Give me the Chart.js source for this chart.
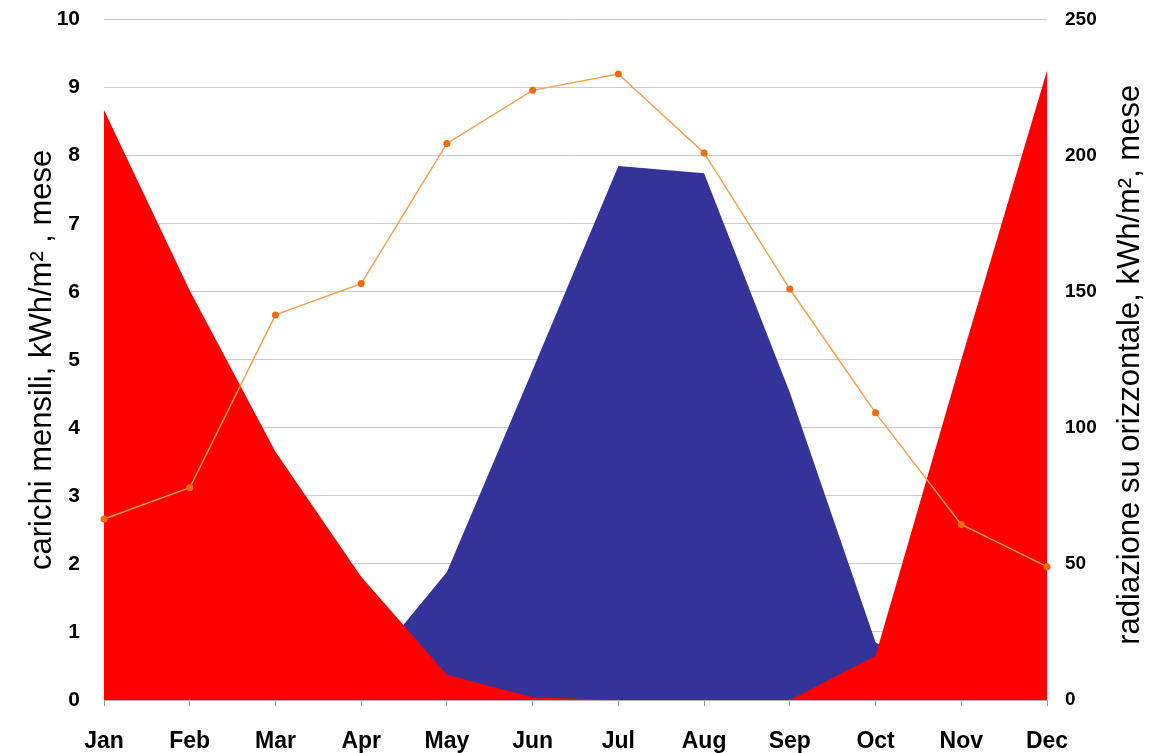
<!DOCTYPE html>
<html>
<head>
<meta charset="utf-8">
<script src="https://cdn.jsdelivr.net/npm/chart.js@4.4.1/dist/chart.umd.min.js"></script>
<style>
  html, body { margin: 0; padding: 0; background: #fff; }
  #wrap { width: 1150px; height: 753px; position: relative; }
</style>
</head>
<body>
<div id="wrap"><canvas id="c"></canvas></div>
<script>
/* monthly loads (left axis) + horizontal radiation (right axis) */
const months = ['Jan', 'Feb', 'Mar', 'Apr', 'May', 'Jun', 'Jul', 'Aug', 'Sep', 'Oct', 'Nov', 'Dec'];
const heating = [8.67, 6.02, 3.65, 1.81, 0.37, 0.04, 0, 0, 0, 0.65, 5.0, 9.25];
const cooling = [0, 0, 0, 0.35, 1.88, 4.85, 7.85, 7.74, 4.52, 0.85, 0, 0];
const radiation = [66.5, 78, 141.5, 153, 204.5, 224, 230, 201, 151, 105.5, 64.5, 49];

const leftTicks = [0, 1, 2, 3, 4, 5, 6, 7, 8, 9, 10];
const rightTicks = [0, 50, 100, 150, 200, 250];
const rightTitle = 'radiazione su orizzontale, kWh/m², mese';

const font = 'Liberation Sans, Arial, sans-serif';
const gridCol = '#cbcbcb';

// Chart.js turns a right-hand title top-to-bottom; the original reads bottom-to-top
const rightTitlePlugin = {
  id: 'rightTitle',
  afterDraw(chart) {
    const { ctx, chartArea } = chart;
    ctx.save();
    ctx.translate(1130, (chartArea.top + chartArea.bottom) / 2 + 5);
    ctx.rotate(-Math.PI / 2);
    ctx.font = '31px ' + font;
    ctx.fillStyle = '#000';
    ctx.textAlign = 'center';
    ctx.textBaseline = 'middle';
    ctx.fillText(rightTitle, 0, 0);
    ctx.restore();
  },
};

new Chart(document.getElementById('c'), {
  type: 'line',
  data: {
    labels: months,
    datasets: [
      { label: 'radiazione', data: radiation, yAxisID: 'y1', order: 0,
        borderColor: '#f5a04e', borderWidth: 1.5, fill: false, tension: 0,
        pointRadius: 3.5, pointBackgroundColor: '#f06a10', pointBorderWidth: 0 },
      { label: 'riscaldamento', data: heating, yAxisID: 'y', order: 1,
        borderWidth: 0, borderColor: '#ff0000', backgroundColor: '#ff0000',
        fill: 'origin', pointRadius: 0, tension: 0 },
      { label: 'raffrescamento', data: cooling, yAxisID: 'y', order: 2,
        borderWidth: 0, borderColor: '#333399', backgroundColor: '#333399',
        fill: 'origin', pointRadius: 0, tension: 0 },
    ],
  },
  options: {
    responsive: true, maintainAspectRatio: false, animation: false,
    layout: { padding: { top: 8, left: 0, right: 0, bottom: 0 } },
    plugins: { legend: { display: false }, tooltip: { enabled: false } },
    scales: {
      x: {
        offset: false,
        grid: { drawOnChartArea: false, drawTicks: true, tickLength: 6, color: '#9a9a9a' },
        border: { display: true, color: '#b0b0b0' },
        ticks: { color: '#000', padding: 22, font: { family: font, size: 23, weight: 'bold' }, maxRotation: 0 },
        afterFit: s => { s.height = 53; },
      },
      y: {
        position: 'left', min: 0, max: 10,
        afterBuildTicks: s => { s.ticks = leftTicks.map(v => ({ value: v })); },
        grid: { color: gridCol, drawTicks: true, tickLength: 17, tickColor: 'rgba(0,0,0,0)' },
        border: { display: false },
        ticks: { color: '#000', padding: 7, font: { family: font, size: 21, weight: 'bold' } },
        title: { display: true, text: 'carichi mensili, kWh/m² , mese', color: '#000',
          font: { family: font, size: 31 }, padding: { top: 24, bottom: 0 } },
        afterFit: s => { s.width = 104; },
      },
      y1: {
        position: 'right', min: 0, max: 250,
        afterBuildTicks: s => { s.ticks = rightTicks.map(v => ({ value: v })); },
        grid: { drawOnChartArea: false, drawTicks: true, tickLength: 11, tickColor: 'rgba(0,0,0,0)' },
        border: { display: false },
        ticks: { color: '#000', padding: 7, font: { family: font, size: 19, weight: 'bold' } },
        afterFit: s => { s.width = 103; },
      },
    },
  },
  plugins: [rightTitlePlugin],
});
</script>
</body>
</html>
